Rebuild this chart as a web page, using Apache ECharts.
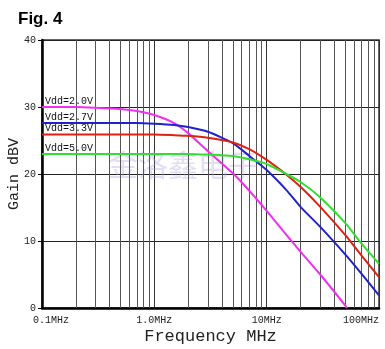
<!DOCTYPE html>
<html><head><meta charset="utf-8">
<script src="https://cdn.jsdelivr.net/npm/echarts@6/dist/echarts.min.js"></script>
<style>html,body{margin:0;padding:0;background:#fff}#c{width:385px;height:349px}</style>
</head><body><div id="c"></div>
<script>
const freqs = [0.1, 0.2, 0.3, 0.5, 0.7, 1, 1.5, 2, 3, 5, 7, 10, 15, 20, 30, 50, 70, 100];
const vdd20 = [30.0, 30.0, 29.9, 29.7, 29.4, 28.8, 27.6, 26.1, 23.4, 20.1, 17.5, 14.5, 10.9, 8.4, 5.0, 0.4, null, null];
const vdd27 = [27.6, 27.6, 27.6, 27.6, 27.6, 27.5, 27.3, 27.0, 26.3, 24.6, 22.7, 20.6, 17.6, 15.1, 12.1, 8.0, 5.1, 1.9];
const vdd33 = [25.9, 25.9, 25.9, 25.9, 25.9, 25.9, 25.8, 25.7, 25.4, 24.7, 23.7, 22.1, 19.9, 18.1, 15.1, 10.9, 7.8, 4.6];
const vdd50 = [23.0, 23.0, 23.0, 23.0, 23.0, 23.0, 23.0, 23.0, 22.9, 22.7, 22.2, 21.5, 20.0, 18.8, 16.5, 12.7, 9.6, 6.6];
const vdd20End = [52, 0];
const seriesNames = ['Vdd=2.0V', 'Vdd=2.7V', 'Vdd=3.3V', 'Vdd=5.0V'];
const seriesColors = ['#f030f0', '#2020cc', '#e02010', '#30e030'];
const xTickLabels = {0.1: '0.1MHz', 1: '1.0MHz', 10: '10MHz', 100: '100MHz'};
const minorGrid = [0.2,0.3,0.4,0.5,0.6,0.7,0.8,0.9,2,3,4,5,6,7,8,9,20,30,40,50,60,70,80,90];
const yTicks = [0, 10, 20, 30, 40];

const mono = "'Courier New','Liberation Mono',monospace";
function mk(vals, extra) {
  const d = [];
  freqs.forEach((f, i) => { if (vals[i] !== null) d.push([f, vals[i]]); });
  if (extra) d.push(extra);
  return d;
}
const allVals = [vdd20, vdd27, vdd33, vdd50];
const series = allVals.map((v, k) => {
  const d = mk(v, k === 0 ? vdd20End : null);
  return {
    type: 'line', name: seriesNames[k], data: d, smooth: 0.2,
    showSymbol: false, symbol: 'none',
    lineStyle: {color: seriesColors[k], width: 2}, z: 5, animation: false,
    markPoint: {silent: true, animation: false, symbol: 'circle', symbolSize: 0,
      data: [{coord: d[0], label: {show: true, formatter: seriesNames[k], position: 'top',
        align: 'left', distance: 1, offset: [3, 0], color: '#111', fontFamily: mono, fontSize: 10}}]}
  };
});
series.push({
  type: 'line', data: [], silent: true, animation: false,
  markLine: {silent: true, animation: false, symbol: ['none', 'none'], label: {show: false},
    lineStyle: {color: '#555', width: 1, type: 'solid'},
    data: minorGrid.map(v => ({xAxis: v}))}
});

const chart = echarts.init(document.getElementById('c'), null, {renderer: 'canvas'});
chart.setOption({
  animation: false,
  backgroundColor: '#fff',
  title: {text: 'Fig. 4', left: 13, top: 6, textStyle: {fontFamily: "Arial,'Liberation Sans',sans-serif", fontSize: 17, fontWeight: 'bold', color: '#000'}},
  graphic: [{type: 'text', left: 108, top: 150, z: 1, silent: true,
    style: {text: '金洛鑫电子', font: "30px 'Noto Sans CJK SC'", fill: 'rgba(175,160,225,0.35)'}}],
  grid: {left: 42, top: 40, right: 6, bottom: 41, containLabel: false, outerBoundsMode: 'none',
    show: true, borderColor: '#333', borderWidth: 1.5, backgroundColor: 'transparent'},
  xAxis: {
    type: 'log', logBase: 10, min: 0.1, max: 100,
    name: 'Frequency MHz', nameLocation: 'middle', nameGap: 20, nameMoveOverlap: false,
    nameTextStyle: {fontFamily: mono, fontSize: 17, color: '#222'},
    axisLine: {lineStyle: {color: '#000', width: 2.5}},
    axisTick: {show: false},
    axisLabel: {fontFamily: mono, fontSize: 10, color: '#222', margin: 7,
      formatter: v => { const t = xTickLabels[+v.toPrecision(3)] || ''; return +v < 0.5 ? '{f|' + t + '}' : t; },
      rich: {f: {padding: [0, 0, 0, 18], fontFamily: mono, fontSize: 10, color: '#222'}},
      alignMaxLabel: 'right'},
    splitLine: {show: true, lineStyle: {color: '#333', width: 1}}
  },
  yAxis: {
    type: 'value', min: 0, max: 40, interval: 10,
    name: 'Gain dBV', nameLocation: 'middle', nameGap: 20, nameMoveOverlap: false,
    nameTextStyle: {fontFamily: mono, fontSize: 15, color: '#222'},
    axisLine: {show: true, lineStyle: {color: '#000', width: 2.5}},
    axisTick: {show: true, length: 4, lineStyle: {color: '#000'}},
    axisLabel: {fontFamily: mono, fontSize: 10, color: '#222', margin: 6,
      formatter: v => yTicks.includes(v) ? String(v) : ''},
    splitLine: {show: true, lineStyle: {color: '#222', width: 1}}
  },
  series: series
});
</script></body></html>
